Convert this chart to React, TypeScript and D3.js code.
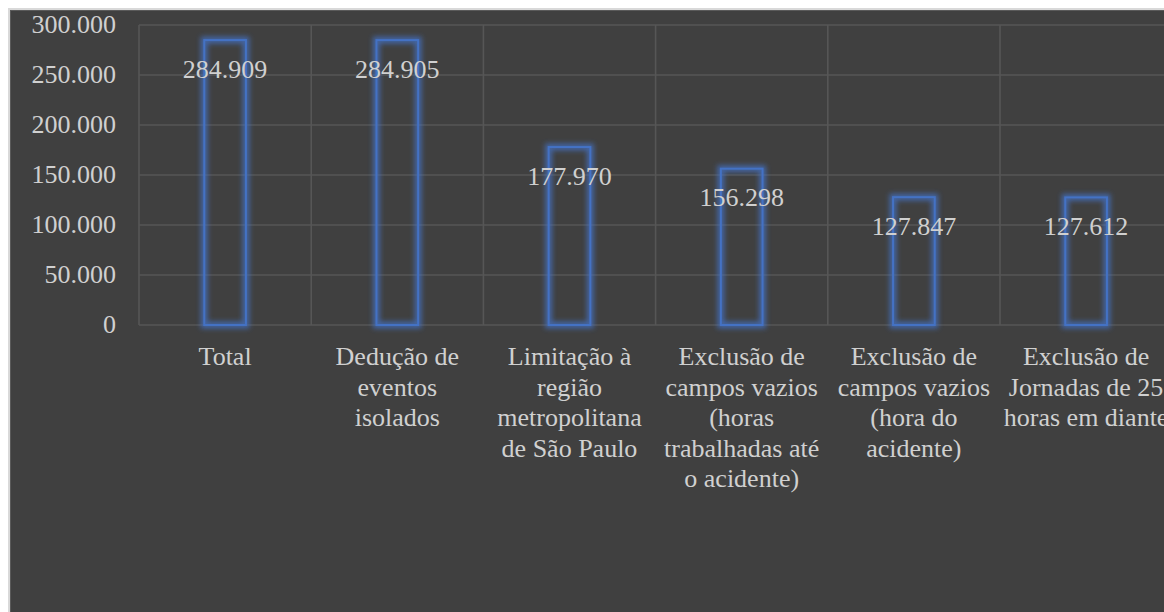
import React, { useEffect } from "react";
import * as d3 from "d3";

const categories: string[] = [
  "Total",
  "Dedução de\neventos\nisolados",
  "Limitação à\nregião\nmetropolitana\nde São Paulo",
  "Exclusão de\ncampos vazios\n(horas\ntrabalhadas até\no acidente)",
  "Exclusão de\ncampos vazios\n(hora do\nacidente)",
  "Exclusão de\nJornadas de 25\nhoras em diante",
];
const values: number[] = [284909, 284905, 177970, 156298, 127847, 127612];
const yTicks: number[] = [0, 50000, 100000, 150000, 200000, 250000, 300000];

const ptBR = d3.formatLocale({
  decimal: ",",
  thousands: ".",
  grouping: [3],
  currency: ["R$", ""],
});
const fmt = ptBR.format(",");

const W = 1164;
const H = 612;
const FONT = "'Liberation Serif', 'Times New Roman', serif";
const TEXT = "#d0d0d0";
const GRID = "#565656";
const BLUE = "#4472C4";

export default function App() {
  useEffect(() => {
    document.documentElement.style.overflow = "hidden";
    document.body.style.overflow = "hidden";
  }, []);

  const plotLeft = 139;
  const band = 172.2;
  const x = d3
    .scaleBand<number>()
    .domain(categories.map((_, i) => i))
    .range([plotLeft, plotLeft + band * categories.length])
    .paddingInner(0)
    .paddingOuter(0);
  const y = d3.scaleLinear().domain([0, 300000]).range([325, 25]);
  const bw = x.bandwidth() * 0.242;

  return (
    <svg
      width={W}
      height={H}
      style={{ display: "block", position: "fixed", left: 0, top: 0 }}
    >
      <defs>
        <filter id="glow" x="-100%" y="-20%" width="300%" height="140%">
          <feGaussianBlur stdDeviation="2.4" />
        </filter>
      </defs>
      <rect x={0} y={0} width={W} height={H} fill="#ffffff" />
      <rect x={8} y={8} width={W + 20} height={H + 20} fill="#d9d9d9" />
      <rect x={10.5} y={10.5} width={W + 20} height={H + 20} fill="#404040" stroke="#5a5a5a" strokeWidth={1} />

      {yTicks.map((t) => (
        <line
          key={"h" + t}
          x1={plotLeft}
          x2={W + 20}
          y1={y(t)}
          y2={y(t)}
          stroke={GRID}
          strokeWidth={1.6}
        />
      ))}
      {categories.map((_, i) => (
        <line
          key={"v" + i}
          x1={x(i)!}
          x2={x(i)!}
          y1={y(300000)}
          y2={y(0)}
          stroke={GRID}
          strokeWidth={1.6}
        />
      ))}

      {yTicks.map((t) => (
        <text
          key={"yt" + t}
          x={116}
          y={y(t)}
          dy="0.31em"
          textAnchor="end"
          fontFamily={FONT}
          fontSize={26}
          fill={TEXT}
        >
          {fmt(t)}
        </text>
      ))}

      {values.map((v, i) => {
        const cx = x(i)! + x.bandwidth() / 2;
        const top = y(v);
        return (
          <g key={"b" + i}>
            <rect
              x={cx - bw / 2}
              y={top}
              width={bw}
              height={y(0) - top}
              fill="none"
              stroke={BLUE}
              strokeOpacity={0.75}
              strokeWidth={7}
              filter="url(#glow)"
            />
            <rect
              x={cx - bw / 2}
              y={top}
              width={bw}
              height={y(0) - top}
              fill="none"
              stroke={BLUE}
              strokeWidth={2}
            />
          </g>
        );
      })}

      {values.map((v, i) => (
        <text
          key={"vl" + i}
          x={x(i)! + x.bandwidth() / 2}
          y={y(v) + 37.5}
          textAnchor="middle"
          fontFamily={FONT}
          fontSize={26}
          fill={TEXT}
        >
          {fmt(v)}
        </text>
      ))}

      {categories.map((c, i) => (
        <text
          key={"c" + i}
          x={x(i)! + x.bandwidth() / 2}
          y={365}
          textAnchor="middle"
          fontFamily={FONT}
          fontSize={26}
          fill={TEXT}
        >
          {c.split("\n").map((line, j) => (
            <tspan key={j} x={x(i)! + x.bandwidth() / 2} y={365 + j * 30.5}>
              {line}
            </tspan>
          ))}
        </text>
      ))}
    </svg>
  );
}
